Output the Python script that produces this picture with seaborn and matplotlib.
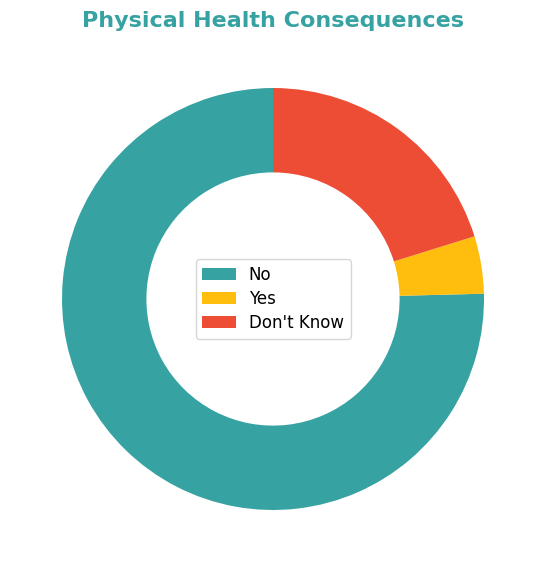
import numpy as np
import matplotlib
matplotlib.use('Agg')
import matplotlib.pyplot as plt
import seaborn as sns

# share of answers (percent), read from the donut
labels = ['No', 'Yes', "Don't Know"]
values = [75.4, 4.4, 20.2]
colors = ['#37A2A2', '#FFBD0E', '#EE4D35']

palette = sns.color_palette(colors)
fig = plt.figure(figsize=(5.47, 5.73), dpi=100)
ax = fig.add_axes([62/547, 63/573, 422/547, 422/573])

wedges, _ = ax.pie(values, colors=palette, startangle=90, counterclock=True,
                   wedgeprops=dict(width=0.4, linewidth=0, edgecolor='none'))
ax.set_xlim(-1, 1)
ax.set_ylim(-1, 1)
ax.set_aspect('equal')
ax.axis('off')

ax.legend(wedges, labels, loc='center', fontsize=12, labelspacing=0.35)
fig.text(273/547, 1 - 21/573, 'Physical Health Consequences', ha='center', va='center',
         fontsize=16, fontweight='bold', color='#37A2A2')

fig.savefig('out.png', dpi=100)
